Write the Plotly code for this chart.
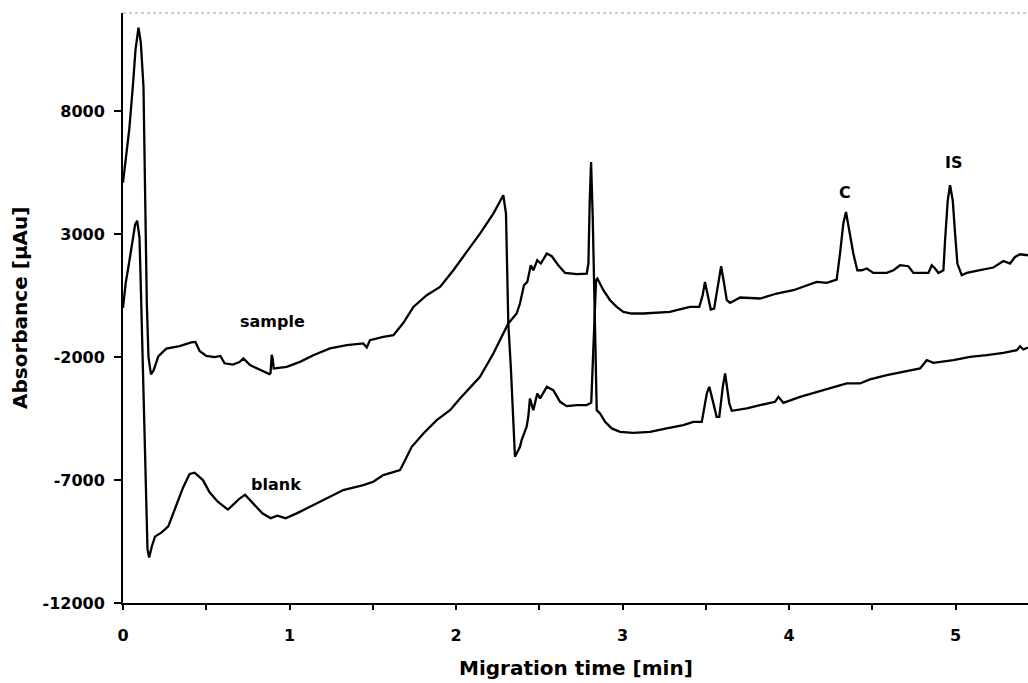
import plotly.graph_objects as go

# ---- data (time in min, absorbance in µAu) ----
sample_t = [0.000, 0.016, 0.038, 0.059, 0.075, 0.093, 0.107, 0.123, 0.133, 0.143, 0.153, 0.168,
            0.183, 0.212, 0.260, 0.340, 0.410, 0.435, 0.460, 0.500, 0.550, 0.585, 0.610, 0.660,
            0.700, 0.723, 0.763, 0.823, 0.879, 0.886, 0.893, 0.899, 0.905, 0.913, 0.983, 1.063,
            1.143, 1.243, 1.344, 1.443, 1.464, 1.483, 1.563, 1.624, 1.684, 1.744, 1.824, 1.904,
            1.984, 2.064, 2.144, 2.224, 2.284, 2.300, 2.310, 2.314, 2.329, 2.341, 2.354, 2.384,
            2.394, 2.424, 2.434, 2.444, 2.464, 2.488, 2.505, 2.545, 2.584, 2.625, 2.665, 2.725,
            2.785, 2.812, 2.822, 2.841, 2.849, 2.885, 2.925, 2.965, 3.005, 3.055, 3.125, 3.205,
            3.285, 3.325, 3.365, 3.405, 3.461, 3.481, 3.495, 3.512, 3.530, 3.550, 3.576, 3.592,
            3.610, 3.626, 3.646, 3.706, 3.826, 3.926, 4.026, 4.106, 4.166, 4.226, 4.286, 4.306,
            4.326, 4.342, 4.362, 4.386, 4.410, 4.437, 4.467, 4.506, 4.587, 4.627, 4.667, 4.717,
            4.747, 4.837, 4.857, 4.877, 4.897, 4.927, 4.937, 4.953, 4.967, 4.983, 4.997, 5.011,
            5.037, 5.067, 5.147, 5.227, 5.287, 5.327, 5.357, 5.387, 5.435]
sample_y = [5100, 6000, 7300, 9000, 10500, 11400, 10800, 9000, 4800, 200, -2000, -2700,
            -2550, -1970, -1650, -1550, -1400, -1380, -1750, -1950, -2000, -1950, -2250, -2300,
            -2200, -2053, -2325, -2529, -2691, -2650, -1900, -2050, -2460, -2459, -2395, -2191,
            -1919, -1646, -1512, -1443, -1606, -1309, -1175, -1106, -600, 45, 520, 858,
            1536, 2281, 3028, 3841, 4585, 3841, 1130, -630, -2395, -4289, -6053, -5647,
            -5374, -4833, -4427, -3679, -4155, -3476, -3679, -3207, -3342, -3817, -3992, -3951,
            -3951, -3850, -2000, 1130, 1199, 723, 317, 45, -159, -224, -224, -199,
            -159, -90, -20, 45, 45, 520, 1061, 451, -61, -20, 996, 1699,
            996, 317, 207, 427, 386, 589, 723, 927, 1061, 1020, 1158, 2215,
            3435, 3906, 3162, 2215, 1536, 1536, 1606, 1427, 1427, 1536, 1740, 1699,
            1427, 1427, 1740, 1606, 1427, 1536, 2756, 4382, 4992, 4382, 3028, 1809,
            1333, 1427, 1536, 1646, 1914, 1809, 2077, 2187, 2146]

blank_t = [0.000, 0.016, 0.038, 0.054, 0.073, 0.085, 0.099, 0.107, 0.119, 0.133, 0.147, 0.157,
           0.173, 0.192, 0.232, 0.272, 0.312, 0.361, 0.400, 0.430, 0.480, 0.520, 0.569, 0.630,
           0.670, 0.700, 0.733, 0.780, 0.837, 0.887, 0.927, 0.976, 1.043, 1.123, 1.223, 1.323,
           1.443, 1.503, 1.563, 1.664, 1.684, 1.734, 1.804, 1.884, 1.964, 2.024, 2.144, 2.224,
           2.314, 2.364, 2.384, 2.408, 2.428, 2.449, 2.464, 2.488, 2.509, 2.545, 2.575, 2.614,
           2.655, 2.725, 2.785, 2.795, 2.803, 2.811, 2.821, 2.829, 2.837, 2.845, 2.865, 2.895,
           2.935, 2.985, 3.065, 3.165, 3.265, 3.365, 3.425, 3.476, 3.506, 3.521, 3.541, 3.565,
           3.581, 3.602, 3.616, 3.629, 3.641, 3.656, 3.746, 3.826, 3.916, 3.936, 3.966, 4.066,
           4.166, 4.266, 4.346, 4.426, 4.486, 4.587, 4.686, 4.787, 4.827, 4.867, 4.987, 5.087,
           5.187, 5.287, 5.368, 5.387, 5.407, 5.435]
blank_y = [0, 1000, 1900, 2530, 3400, 3550, 2870, 870, -2470, -6630, -9800, -10150,
           -9700, -9300, -9130, -8880, -8130, -7300, -6750, -6700, -7000, -7500, -7880, -8200,
           -7950, -7750, -7600, -7950, -8350, -8550, -8450, -8550, -8354, -8085, -7744, -7407,
           -7203, -7069, -6797, -6594, -6321, -5646, -5102, -4561, -4155, -3679, -2801, -1850,
           -630, -224, 183, 927, 1061, 1740, 1536, 1943, 1809, 2215, 2106, 1740,
           1427, 1374, 1401, 1809, 4382, 5939, 3703, 996, -1716, -4155, -4289, -4630,
           -4898, -5037, -5077, -5037, -4898, -4764, -4630, -4630, -3476, -3207, -3748, -4427,
           -4427, -3207, -2663, -3207, -3882, -4183, -4086, -3951, -3817, -3614, -3858, -3614,
           -3411, -3207, -3069, -3069, -2907, -2732, -2597, -2459, -2122, -2232, -2122, -1988,
           -1919, -1825, -1716, -1553, -1687, -1606]

y_tick_values = [-12000, -7000, -2000, 3000, 8000]
y_tick_labels = ["-12000", "-7000", "-2000", "3000", "8000"]
x_tick_values = [0, 1, 2, 3, 4, 5]
x_tick_labels = ["0", "1", "2", "3", "4", "5"]

label_text = ["sample", "blank", "C", "IS"]
label_t = [0.895, 0.919, 4.336, 4.985]
label_y = [-530, -7160, 4680, 5900]

FONT = "DejaVu Sans"

fig = go.Figure()
fig.add_trace(go.Scatter(x=sample_t, y=sample_y, mode="lines",
                         line=dict(color="black", width=2.3), name="sample"))
fig.add_trace(go.Scatter(x=blank_t, y=blank_y, mode="lines",
                         line=dict(color="black", width=2.3), name="blank"))

for txt, tx, ty in zip(label_text, label_t, label_y):
    fig.add_annotation(x=tx, y=ty, xref="x", yref="y", text=txt, showarrow=False,
                       font=dict(family=FONT, size=16, color="black", weight="bold"))

# axis titles
fig.add_annotation(x=0.5, y=0, xref="paper", yref="paper", yshift=-65, yanchor="middle",
                   text="Migration time [min]", showarrow=False,
                   font=dict(family=FONT, size=20, color="black", weight="bold"))
fig.add_annotation(x=0, y=0.5, xref="paper", yref="paper", xshift=-103, xanchor="center",
                   text="Absorbance [µAu]", textangle=-90, showarrow=False,
                   font=dict(family=FONT, size=20, color="black", weight="bold"))

# dotted top border
fig.add_shape(type="line", xref="paper", yref="paper", x0=0, x1=1, y0=1, y1=1,
              line=dict(color="#9a9a9a", width=1, dash="dot"))

fig.update_layout(
    width=1028, height=683,
    margin=dict(l=123, r=0, t=13, b=80),
    paper_bgcolor="white", plot_bgcolor="white",
    showlegend=False,
    font=dict(family=FONT, color="black"),
    xaxis=dict(range=[0, 5.435], showgrid=False, zeroline=False,
               showline=True, linecolor="black", linewidth=2,
               ticks="outside", ticklen=5, tickwidth=2, tickcolor="black",
               tickvals=x_tick_values, ticktext=x_tick_labels,
               tickfont=dict(family=FONT, size=16, color="black", weight="bold"),
               ticklabelstandoff=12,
               minor=dict(tickvals=[0.5, 1.5, 2.5, 3.5, 4.5], ticks="outside", ticklen=5,
                          tickwidth=2, tickcolor="black", showgrid=False)),
    yaxis=dict(range=[-12000, 12000], showgrid=False, zeroline=False,
               showline=True, linecolor="black", linewidth=2,
               ticks="outside", ticklen=7, tickwidth=2, tickcolor="black",
               tickvals=y_tick_values, ticktext=y_tick_labels,
               tickfont=dict(family=FONT, size=16, color="black", weight="bold"),
               ticklabelstandoff=6),
)

fig.write_html("out.html", config={"displayModeBar": False},
               post_script="document.body.style.margin='0';document.body.style.padding='0';"
                           "document.body.style.overflow='hidden';")
